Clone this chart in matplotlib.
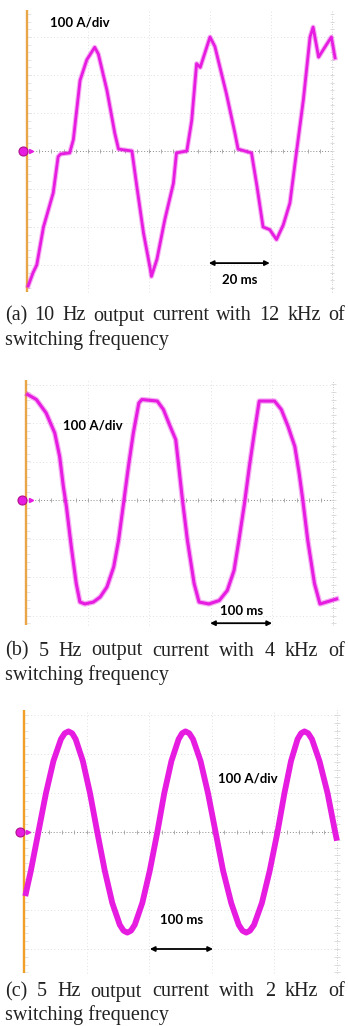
import numpy as np
import matplotlib.pyplot as plt

# -----------------------------
# 波形数据（单位：格 div，从示波器截图读取）
# -----------------------------
# (a) 10 Hz, 12 kHz
xa = [0.02, 0.10, 0.16, 0.27, 0.43, 0.51, 0.55, 0.70, 0.76, 0.87, 0.98, 1.11,
      1.17, 1.31, 1.44, 1.50, 1.72, 1.80, 1.91, 2.02, 2.04, 2.13, 2.26, 2.40,
      2.45, 2.62, 2.70, 2.78, 2.84, 2.92, 3.00, 3.08, 3.27, 3.41, 3.46, 3.68,
      3.77, 3.87, 3.98, 4.09, 4.20, 4.31, 4.42, 4.53, 4.64, 4.69, 4.78, 4.89,
      4.99, 5.05]
ya = [-3.55, -3.20, -3.00, -2.00, -1.10, -0.15, -0.08, -0.05, 0.30, 1.86, 2.40, 2.73,
      2.55, 1.60, 0.46, 0.05, 0.00, -0.93, -2.16, -3.10, -3.30, -2.85, -1.80, -0.85,
      -0.05, 0.00, 0.80, 2.30, 2.20, 2.60, 3.00, 2.75, 1.50, 0.46, 0.05, -0.05,
      -0.93, -2.00, -2.07, -2.33, -1.95, -1.37, 0.00, 1.34, 3.00, 3.26, 2.47, 2.75,
      3.00, 2.45]

# (b) 5 Hz, 4 kHz
xb = [0.02, 0.16, 0.32, 0.46, 0.54, 0.60, 0.65, 0.73, 0.81, 0.87, 0.95, 1.09,
      1.20, 1.31, 1.42, 1.50, 1.58, 1.66, 1.74, 1.83, 1.88, 2.13, 2.23, 2.34,
      2.43, 2.48, 2.54, 2.62, 2.73, 2.81, 2.97, 3.14, 3.27, 3.38, 3.46, 3.55,
      3.63, 3.71, 3.79, 4.04, 4.15, 4.26, 4.37, 4.44, 4.50, 4.58, 4.69, 4.78,
      5.05]
yb = [2.74, 2.61, 2.26, 1.74, 1.13, 0.35, -0.17, -1.22, -2.17, -2.65, -2.70, -2.65,
      -2.52, -2.26, -1.74, -1.04, -0.09, 0.87, 1.74, 2.52, 2.61, 2.57, 2.35, 1.91,
      1.57, 0.87, 0.00, -1.04, -2.17, -2.65, -2.70, -2.61, -2.35, -1.83, -1.04, -0.09,
      0.87, 1.74, 2.57, 2.57, 2.35, 1.91, 1.39, 0.70, 0.00, -1.04, -2.17, -2.70,
      -2.57]

# (c) 5 Hz, 2 kHz
xc = [0.03, 0.11, 0.23, 0.35, 0.47, 0.59, 0.65, 0.71, 0.77, 0.825, 0.94, 1.055, 1.17,
      1.29, 1.41, 1.53, 1.59, 1.65, 1.71, 1.77, 1.89, 2.01, 2.13, 2.24, 2.355, 2.47,
      2.525, 2.58, 2.64, 2.70, 2.82, 2.94, 3.06, 3.18, 3.31, 3.43, 3.49, 3.55, 3.61,
      3.675, 3.80, 3.925, 4.05, 4.16, 4.265, 4.37, 4.425, 4.48, 4.54, 4.60, 4.72,
      4.85, 4.97, 4.99]
yc = [-1.57, -0.99, 0.00, 0.99, 1.82, 2.38, 2.53, 2.58, 2.53, 2.38, 1.82, 0.99, 0.00,
      -0.99, -1.82, -2.38, -2.53, -2.58, -2.53, -2.38, -1.82, -0.99, 0.00, 0.99, 1.82, 2.38,
      2.53, 2.58, 2.53, 2.38, 1.82, 0.99, 0.00, -0.99, -1.82, -2.38, -2.53, -2.58, -2.53,
      -2.38, -1.82, -0.99, 0.00, 0.99, 1.82, 2.38, 2.53, 2.58, 2.53, 2.38, 1.82,
      0.99, 0.00, -0.15]

captions = [
    ("(a) 10 Hz output current with 12 kHz of", "switching frequency"),
    ("(b) 5 Hz output current with 4 kHz of", "switching frequency"),
    ("(c) 5 Hz output current with 2 kHz of", "switching frequency"),
]
scale_label = "100 A/div"
time_labels = ["20 ms", "100 ms", "100 ms"]

# -----------------------------
# 画布（像素坐标布局）
# -----------------------------
W, H = 348, 1026
fig = plt.figure(figsize=(W / 100, H / 100), dpi=100)
fig.patch.set_facecolor('white')

MAG = '#e61ce0'
ORANGE = '#e9a648'


def panel(top, bot, x0, dx, y0, dy):
    """像素框 -> 以格为单位的坐标轴"""
    ax = fig.add_axes([0, 1 - bot / H, 1, (bot - top) / H])
    ax.set_xlim(-x0 / dx, (W - x0) / dx)
    ax.set_ylim((y0 - bot) / dy, (y0 - top) / dy)
    ax.axis('off')
    return ax


def scope_grid(ax, ymin, ymax, orange_col=ORANGE):
    for yy in range(int(np.ceil(ymin)), int(np.floor(ymax)) + 1):
        if yy != 0:
            ax.plot([0, 5], [yy, yy], color='#d6d6d6', lw=0.6, ls=(0, (1, 3)))
    for xx in range(1, 5):
        ax.plot([xx, xx], [ymin, ymax], color='#d6d6d6', lw=0.6, ls=(0, (1, 3)))
    ax.plot([5, 5], [ymin, ymax], color='#bdbdbd', lw=0.6, ls=(0, (1, 2)))
    ax.plot([0, 5], [0, 0], color='#8c8c8c', lw=0.7, ls=(0, (1, 2)))
    t = np.arange(0.2, 5.0, 0.2)
    ax.vlines(t, -0.05, 0.05, color='#a0a0a0', lw=0.6)
    ty = np.arange(np.ceil(ymin / 0.2) * 0.2, ymax, 0.2)
    ax.hlines(ty, 4.96, 5.04, color='#d0d0d0', lw=0.5)
    ax.hlines(ty, 0.0, 0.06, color='#dadada', lw=0.5)
    ax.plot([0, 0], [ymin, ymax], color=orange_col, lw=1.7, solid_capstyle='butt')
    ax.plot([-0.068], [0], 'o', ms=6.5, mfc=MAG, mec='#b0108a', mew=0.8)
    ax.plot([0.07], [0], '>', ms=3, color=MAG)


def trace(ax, x, y, lw, band=True):
    # 噪声带：宽的半透明线 + 实线
    if band:
        ax.plot(x, y, color=MAG, lw=lw * 1.8, alpha=0.35, solid_joinstyle='round')
    ax.plot(x, y, color=MAG, lw=lw, solid_joinstyle='round')


def time_arrow(ax, x1, x2, y, label, ty):
    ax.annotate('', xy=(x2, y), xytext=(x1, y),
                arrowprops=dict(arrowstyle='<|-|>', color='black', lw=1.3,
                                mutation_scale=7, shrinkA=0, shrinkB=0))
    ax.text((x1 + x2) / 2, ty, label, ha='center', va='center',
            fontsize=9.5, fontweight='bold', family='Lato')


def caption(lines, y1, y2):
    # 第一行两端对齐
    renderer = fig.canvas.get_renderer()
    words = lines[0].split()
    texts = [fig.text(0, 1 - y1 / H, w, fontsize=14.5, family='Liberation Serif',
                      va='center', color='#222222') for w in words]
    widths = [t.get_window_extent(renderer).width for t in texts]
    x_left, x_right = 5, 345
    gap = (x_right - x_left - sum(widths)) / (len(words) - 1)
    x = x_left
    for t, w in zip(texts, widths):
        t.set_x(x / W)
        x += w + gap
    fig.text(x_left / W, 1 - y2 / H, lines[1], fontsize=14.5,
             family='Liberation Serif', va='center', color='#222222')


# (a)
ax = panel(0, 300, 27, 61, 151, 38)
scope_grid(ax, -3.71, 3.71)
trace(ax, xa, ya, 2.0)
ax.text(0.38, 3.37, scale_label, fontsize=9.5, fontweight='bold', family='Lato',
        va='center', ha='left')
time_arrow(ax, 2.98, 3.98, -2.95, time_labels[0], -3.39)
caption(captions[0], 316, 340)

# (b)
ax = panel(360, 636, 26.5, 61.4, 500, 38.5)
scope_grid(ax, -3.25, 3.12)
trace(ax, xb, yb, 2.2)
ax.text(0.6, 1.93, scale_label, fontsize=9.5, fontweight='bold', family='Lato',
        va='center', ha='left')
time_arrow(ax, 2.99, 4.0, -3.2, time_labels[1], -2.88)
caption(captions[1], 651, 675)

# (c)
ax = panel(700, 980, 24, 62.6, 832, 39)
scope_grid(ax, -3.62, 3.13, orange_col='#f0a028')
trace(ax, xc, yc, 4.2, band=False)
ax.text(3.1, 1.36, scale_label, fontsize=9.5, fontweight='bold', family='Lato',
        va='center', ha='left')
time_arrow(ax, 2.01, 3.02, -3.0, time_labels[2], -2.26)
caption(captions[2], 992, 1015)

fig.savefig('out.png', dpi=100)
